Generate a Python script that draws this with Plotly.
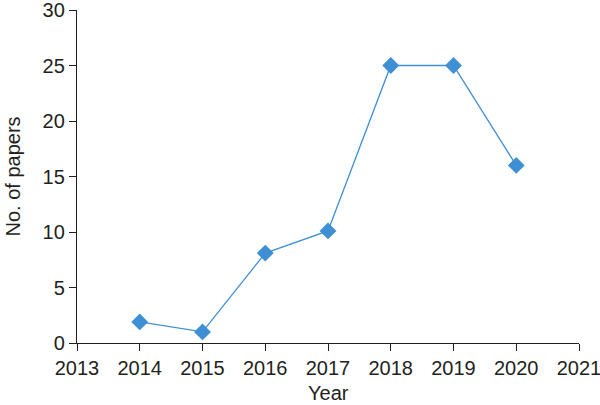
import plotly.graph_objects as go

years = [2014, 2015, 2016, 2017, 2018, 2019, 2020]
papers = [1.9, 1.0, 8.1, 10.1, 25, 25, 16]
x_ticks = [2013, 2014, 2015, 2016, 2017, 2018, 2019, 2020, 2021]
y_ticks = [0, 5, 10, 15, 20, 25, 30]
x_title = "Year"
y_title = "No. of papers"

fig = go.Figure()
fig.add_trace(go.Scatter(
    x=years, y=papers, mode="lines+markers",
    line=dict(color="#3f8fd5", width=1.3),
    marker=dict(symbol="diamond", size=13, color="#3f8fd5"),
    cliponaxis=False,
))

fnt = dict(family="Liberation Sans, Arial, sans-serif", size=20, color="#231f20")
fig.update_layout(
    width=600, height=405,
    margin=dict(l=77, r=21, t=10, b=62),
    paper_bgcolor="white", plot_bgcolor="white",
    showlegend=False,
    font=fnt,
)
fig.update_xaxes(
    range=[2013, 2021], tickvals=x_ticks, ticktext=[str(v) for v in x_ticks],
    showgrid=False, zeroline=False, showline=True, linecolor="#231f20", linewidth=1.3,
    ticks="outside", ticklen=7, tickcolor="#231f20", tickwidth=1.3,
    tickfont=fnt, automargin=False, ticklabeloverflow="allow",
)
fig.update_yaxes(
    range=[0, 30], tickvals=y_ticks,
    showgrid=False, zeroline=False, showline=True, linecolor="#231f20", linewidth=1.3,
    ticks="outside", ticklen=7, tickcolor="#231f20", tickwidth=1.3,
    tickfont=fnt, automargin=False, ticklabeloverflow="allow",
)
fig.add_annotation(text=x_title, xref="paper", yref="paper", x=0.5, y=0,
                   xanchor="center", yanchor="middle", yshift=-50,
                   showarrow=False, font=fnt)
fig.add_annotation(text=y_title, xref="paper", yref="paper", x=0, y=0.5,
                   xanchor="center", yanchor="middle", xshift=-65, textangle=-90,
                   showarrow=False, font=fnt)
fig.write_html("out.html", config={"displayModeBar": False},
               post_script="document.body.style.margin='0';document.body.style.padding='0';window.dispatchEvent(new Event('resize'));")
